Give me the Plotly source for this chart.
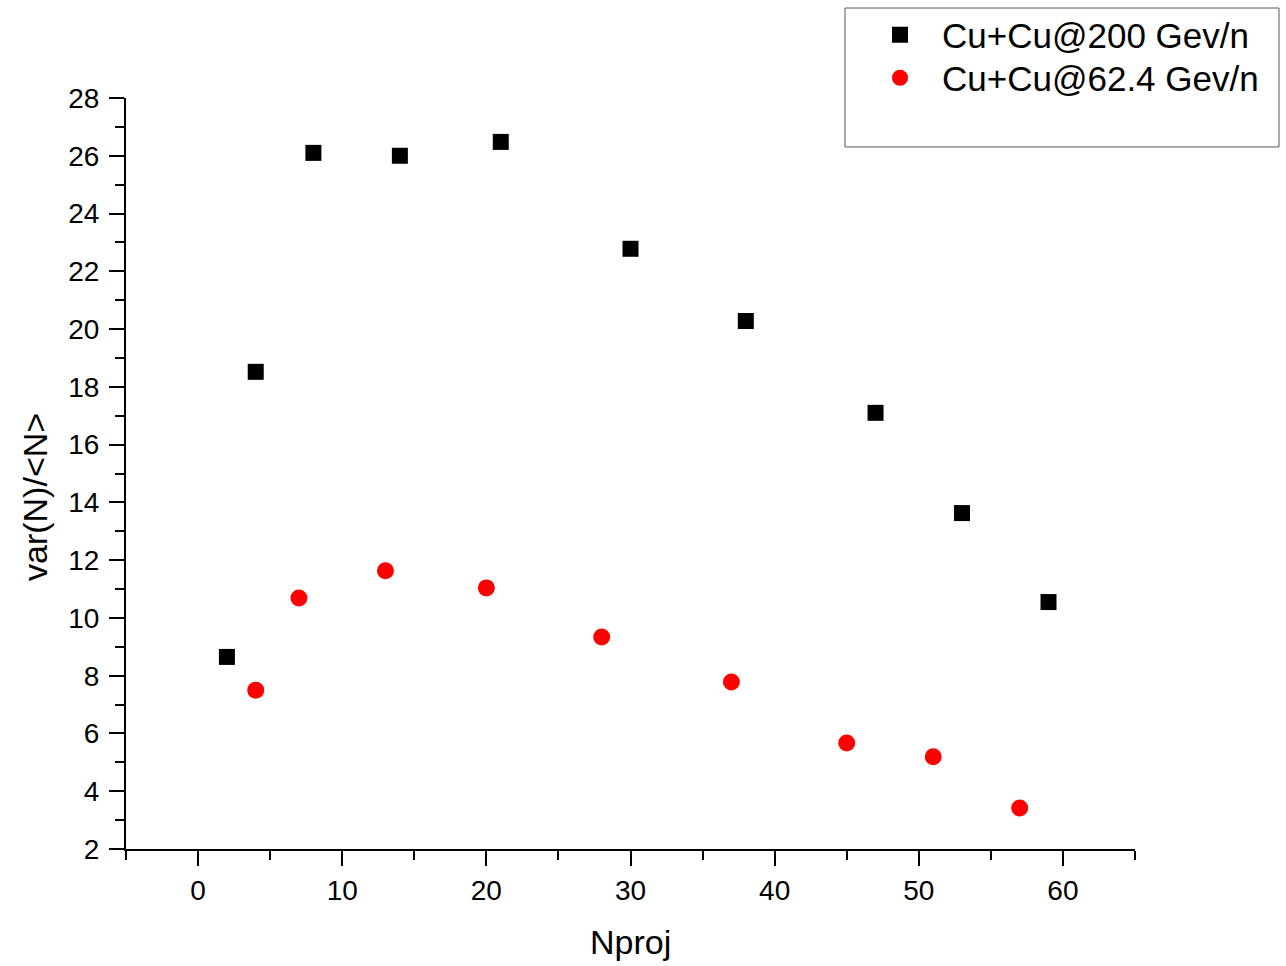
import plotly.graph_objects as go

# Cu+Cu @ 200 GeV/n
npart_200 = [2, 4, 8, 14, 21, 30, 38, 47, 53, 59]
ratio_200 = [8.65, 18.52, 26.1, 26.0, 26.48, 22.78, 20.28, 17.1, 13.63, 10.55]

# Cu+Cu @ 62.4 GeV/n
npart_62 = [4, 7, 13, 20, 28, 37, 45, 51, 57]
ratio_62 = [7.5, 10.69, 11.63, 11.04, 9.34, 7.78, 5.67, 5.19, 3.42]

x_ticks = [0, 10, 20, 30, 40, 50, 60]
y_ticks = [2, 4, 6, 8, 10, 12, 14, 16, 18, 20, 22, 24, 26, 28]

FONT = "Arial, 'Liberation Sans', sans-serif"
W, H = 1286, 966

fig = go.Figure()
fig.add_trace(go.Scatter(
    x=npart_200, y=ratio_200, mode="markers", name="Cu+Cu@200 Gev/n",
    marker=dict(symbol="square", size=16, color="black"), legend="legend",
))
fig.add_trace(go.Scatter(
    x=npart_62, y=ratio_62, mode="markers", name="Cu+Cu@62.4 Gev/n",
    marker=dict(symbol="circle", size=17, color="#ff0000"), legend="legend2",
))

axis_common = dict(
    showline=True, linecolor="black", linewidth=2, mirror=False,
    showgrid=False, zeroline=False,
    ticks="outside", ticklen=15, tickwidth=2, tickcolor="black",
    tickfont=dict(family=FONT, size=28, color="black"),
)

fig.update_xaxes(
    range=[-5, 65], tickmode="array", tickvals=x_ticks,
    minor=dict(ticks="outside", ticklen=9, tickwidth=2, tickcolor="black", dtick=5, tick0=0),
    **axis_common,
)
fig.update_yaxes(
    range=[2, 28], tickmode="array", tickvals=y_ticks, ticklabelstandoff=4,
    minor=dict(ticks="outside", ticklen=9, tickwidth=2, tickcolor="black", dtick=1, tick0=0),
    **axis_common,
)

# legend frame
fig.add_shape(type="rect", xref="paper", yref="paper",
              x0=0.7126, x1=1.1427, y0=0.9348, y1=1.1198,
              line=dict(color="#555555", width=1), fillcolor="rgba(0,0,0,0)")

fig.add_annotation(text="Nproj", xref="paper", yref="paper", x=0.5, y=-0.1238,
                   showarrow=False, xanchor="center", yanchor="middle",
                   font=dict(family=FONT, size=34, color="black"))
fig.add_annotation(text="var(N)/&lt;N&gt;", xref="paper", yref="paper", x=-0.0902, y=0.4687,
                   showarrow=False, textangle=-90, xanchor="center", yanchor="middle",
                   font=dict(family=FONT, size=34, color="black"))

legend_style = dict(
    xref="container", yref="container", x=858 / W, xanchor="left", yanchor="middle",
    bgcolor="rgba(0,0,0,0)", borderwidth=0, itemwidth=74,
    font=dict(family=FONT, size=35, color="black"),
)

fig.update_layout(
    width=W, height=H,
    margin=dict(l=126, r=151, t=98, b=117, autoexpand=False),
    plot_bgcolor="white", paper_bgcolor="white",
    showlegend=True,
    legend=dict(y=1 - 35 / H, **legend_style),
    legend2=dict(y=1 - 78 / H, **legend_style),
)

fig.write_html("out.html")
